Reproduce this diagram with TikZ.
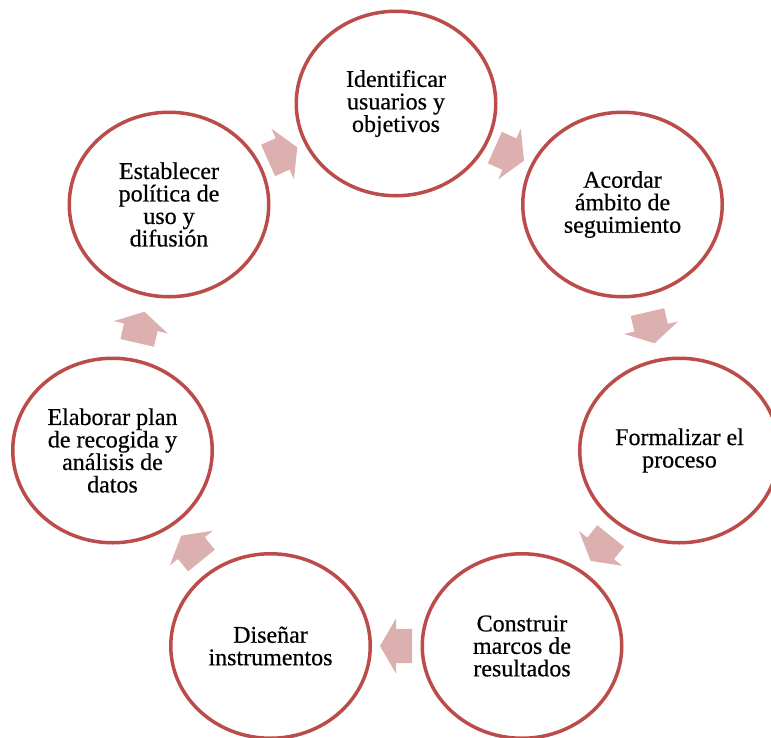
\documentclass[tikz,border=0pt]{standalone}
\usepackage{fontspec}
\setmainfont{Liberation Serif}[FakeBold=0.5]
\usetikzlibrary{calc,shapes.geometric,shapes.arrows,backgrounds}
\definecolor{ringred}{RGB}{188,76,74}
\definecolor{arrowpink}{RGB}{221,176,176}
\tikzset{
  stage/.style={ellipse, draw=ringred, line width=3.5pt, fill=white,
    minimum width=199.5pt, minimum height=184.5pt, inner sep=0pt,
    align=center, text=black, font=\fontsize{24}{22.5}\selectfont},
  cyclearrow/.style={single arrow, fill=arrowpink, draw=none,
    inner xsep=0pt, inner ysep=17pt,
    minimum height=32pt, single arrow head extend=10.5pt,
    single arrow tip angle=120, anchor=tail}
}
\begin{document}
\begin{tikzpicture}[x=1pt,y=-1pt]
\useasboundingbox (0,0) rectangle (771,737);
\node[stage] (c1) at (396,103.5) {Identificar\\usuarios y\\objetivos};
\node[stage] (c2) at (622.5,204.5) {Acordar\\ámbito de\\seguimiento};
\node[stage] (c3) at (679.5,450.5) {Formalizar el\\proceso};
\node[stage] (c4) at (522,646) {Construir\\marcos de\\resultados};
\node[stage] (c5) at (270.5,646) {Diseñar\\instrumentos};
\node[stage] (c6) at (112.5,450.5) {Elaborar plan\\de recogida y\\análisis de\\datos};
\node[stage] (c7) at (169,204.5) {Establecer\\política de\\uso y\\difusión};
\begin{pgfonlayer}{background}
\fill[white] (0,0) rectangle (771,737);
\foreach \a/\b in {c1/c2,c2/c3,c3/c4,c4/c5,c5/c6,c6/c7,c7/c1}{
  \path let \p1=($(\b)-(\a)$), \n1={atan2(\y1,\x1)} in
    node[cyclearrow, rotate=\n1] (arr-\a) at ($($(\a)!0.5!(\b)$)!16pt!(\a)$) {};
}
\end{pgfonlayer}
\end{tikzpicture}
\end{document}
